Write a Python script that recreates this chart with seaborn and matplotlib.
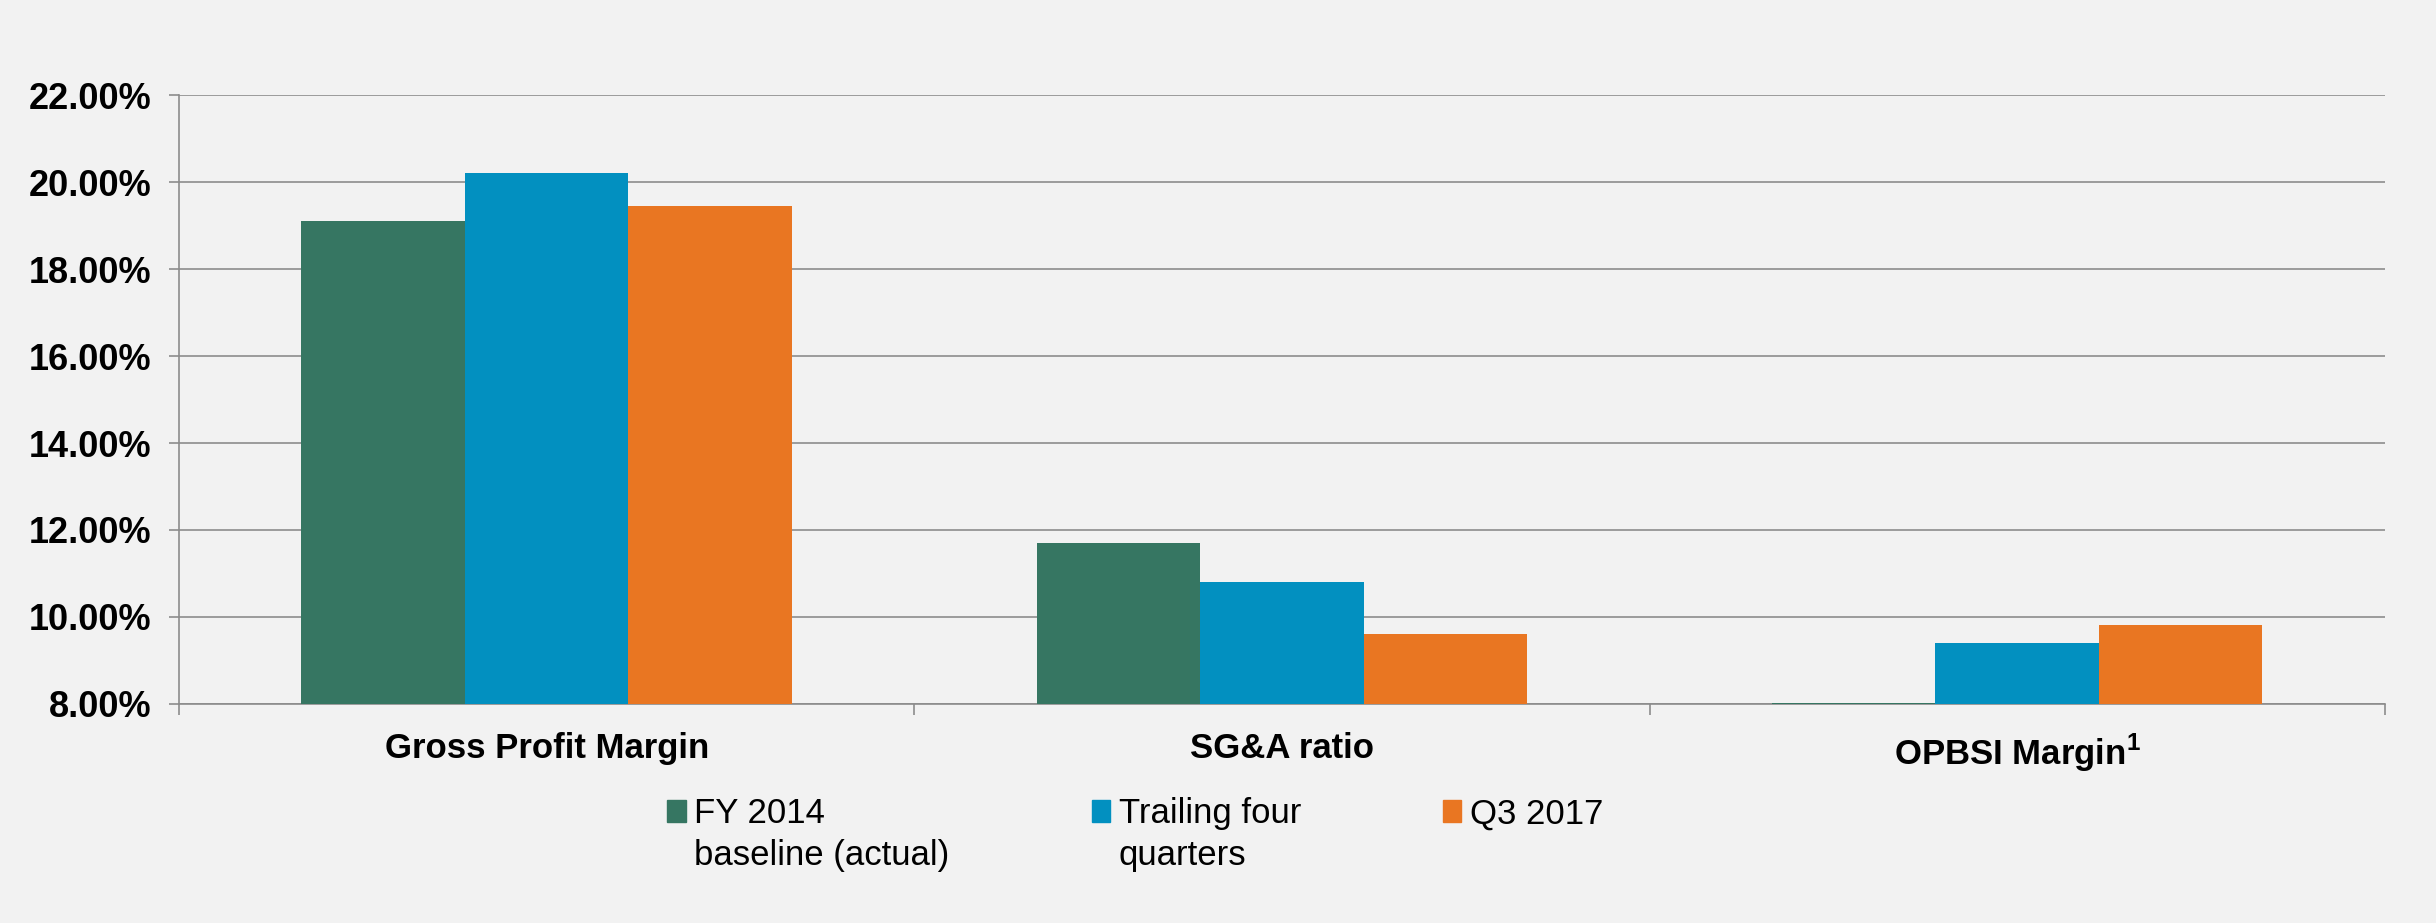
import matplotlib
matplotlib.use('Agg')
import matplotlib.pyplot as plt
import pandas as pd
import seaborn as sns
from matplotlib.patches import Rectangle
from matplotlib.ticker import FixedLocator, StrMethodFormatter

# Data
categories = ['Gross Profit Margin', 'SG&A ratio', 'OPBSI Margin$^{\\mathbf{1}}$']
series = ['FY 2014 baseline (actual)', 'Trailing four quarters', 'Q3 2017']
fy2014 = [19.11, 11.71, 8.03]
trailing = [20.21, 10.80, 9.40]
q3_2017 = [19.46, 9.62, 9.81]
colors = ['#367662', '#0290C0', '#E97622']

df = pd.DataFrame({
    'category': categories * 3,
    'series': [s for s in series for _ in categories],
    'value': fy2014 + trailing + q3_2017,
})

sns.set_style('white')
plt.rcParams['font.family'] = ['Liberation Sans', 'DejaVu Sans']
plt.rcParams['text.color'] = 'black'
plt.rcParams['xtick.labelcolor'] = 'black'
plt.rcParams['ytick.labelcolor'] = 'black'
plt.rcParams['mathtext.fontset'] = 'custom'
plt.rcParams['mathtext.rm'] = 'Liberation Sans'
plt.rcParams['mathtext.bf'] = 'Liberation Sans:bold'

bg = '#F2F2F2'
grid_c = '#8C8C8C'

fig = plt.figure(figsize=(24.36, 9.23), dpi=100, facecolor=bg)
ax = fig.add_axes([0.0735, 0.2373, 0.9055, 0.6597])
ax.set_facecolor(bg)

sns.barplot(data=df, x='category', y='value', hue='series', palette=colors,
            width=0.667, gap=0, saturation=1, linewidth=0, ax=ax, legend=False)

ax.set_ylim(8, 22)
ax.set_xlim(-0.5, 2.5)
ax.yaxis.set_major_locator(FixedLocator([8, 10, 12, 14, 16, 18, 20, 22]))
ax.yaxis.set_major_formatter(StrMethodFormatter('{x:.2f}%'))
ax.grid(axis='y', color=grid_c, linewidth=1.2)
ax.set_axisbelow(True)

for s in ['top', 'right']:
    ax.spines[s].set_visible(False)
for s in ['left', 'bottom']:
    ax.spines[s].set_color(grid_c)
    ax.spines[s].set_linewidth(1.2)
    ax.spines[s].set_zorder(0.5)

ax.tick_params(axis='y', which='major', left=True, length=7, width=1.2, color=grid_c,
               pad=13, labelsize=26, labelcolor='black')
for lab in ax.get_yticklabels():
    lab.set_fontweight('bold')

# category labels centered, separator ticks at boundaries
ax.set_xticks([0, 1, 2])
ax.set_xticklabels(categories, fontsize=25, fontweight='bold', color='black')
ax.tick_params(axis='x', which='major', length=0, pad=20)
ax.set_xticks([-0.5, 0.5, 1.5, 2.5], minor=True)
ax.tick_params(axis='x', which='minor', bottom=True, length=8, width=1.2, color=grid_c)
ax.set_xlabel('')
ax.set_ylabel('')

# legend: two rows per column so the marker sits with the first line
blank = Rectangle((0, 0), 1, 1, alpha=0)
handles = [Rectangle((0, 0), 1, 1, color=colors[0]), blank,
           Rectangle((0, 0), 1, 1, color=colors[1]), blank,
           Rectangle((0, 0), 1, 1, color=colors[2]), blank]
labels = ['FY 2014', 'baseline (actual)', 'Trailing four', 'quarters', 'Q3 2017', '']
leg = fig.legend(handles, labels, ncol=3, loc='upper left', bbox_to_anchor=(0.274, 0.136),
                 frameon=False, fontsize=25, handlelength=0.52, handleheight=0.6,
                 handletextpad=0.25, columnspacing=4.1, labelspacing=0.25,
                 borderpad=0, borderaxespad=0)
for t in leg.get_texts():
    t.set_color('black')

fig.savefig('out.png', dpi=100, facecolor=bg)
